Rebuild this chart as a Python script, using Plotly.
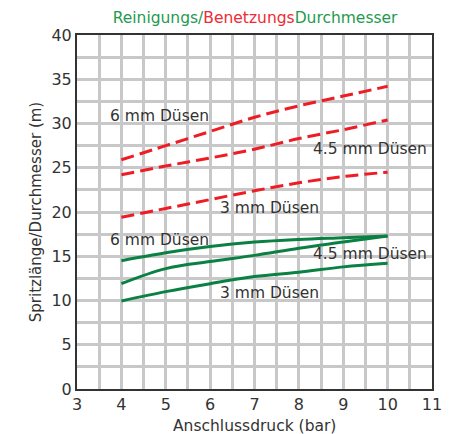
import plotly.graph_objects as go

pressure = [4, 5, 6, 7, 8, 9, 10]

# Benetzungsdurchmesser (red dashed)
wet_6mm = [25.9, 27.5, 29.1, 30.7, 32.0, 33.1, 34.2]
wet_45mm = [24.2, 25.2, 26.1, 27.1, 28.3, 29.3, 30.4]
wet_3mm = [19.4, 20.4, 21.4, 22.4, 23.3, 24.0, 24.5]

# Reinigungsdurchmesser (green solid)
clean_6mm = [14.5, 15.4, 16.1, 16.6, 16.9, 17.1, 17.3]
clean_45mm = [11.9, 13.6, 14.4, 15.1, 15.9, 16.6, 17.3]
clean_3mm = [9.95, 11.0, 11.9, 12.7, 13.2, 13.8, 14.2]

labels = ["6 mm Düsen", "4.5 mm Düsen", "3 mm Düsen"]
wet_label_pos = [(3.74, 30.9), (8.32, 27.1), (6.22, 20.45)]
clean_label_pos = [(3.74, 16.8), (8.32, 15.25), (6.22, 10.8)]

RED = "#ee1c25"
GREEN = "#0b8043"
FONT = "DejaVu Sans"

fig = go.Figure()
for ys in [wet_6mm, wet_45mm, wet_3mm]:
    fig.add_trace(go.Scatter(x=pressure, y=ys, mode="lines",
                             line=dict(color=RED, width=3, dash="13px,6px", shape="spline"),
                             showlegend=False, hoverinfo="skip"))
for ys in [clean_6mm, clean_45mm, clean_3mm]:
    fig.add_trace(go.Scatter(x=pressure, y=ys, mode="lines",
                             line=dict(color=GREEN, width=3, shape="spline"),
                             showlegend=False, hoverinfo="skip"))

for lab, (x, y) in zip(labels + labels, wet_label_pos + clean_label_pos):
    fig.add_annotation(x=x, y=y, text=lab, showarrow=False, xanchor="left", yanchor="middle",
                       xshift=-2, font=dict(family=FONT, size=15.5, color="#333333"))

# x-axis title as paper annotation for exact placement
fig.add_annotation(x=0.501, y=-0.104, xref="paper", yref="paper", text="Anschlussdruck (bar)",
                   showarrow=False, xanchor="center", yanchor="middle",
                   font=dict(family=FONT, size=15.5, color="#333333"))

title_text = ("<span style='color:#1f9a4f'>Reinigungs/</span>"
              "<span style='color:#ee2a35'>Benetzungs</span>"
              "<span style='color:#1f9a4f'>Durchmesser</span>")

fig.update_layout(
    width=455, height=434,
    margin=dict(l=69, r=31, t=27, b=53, autoexpand=False),
    paper_bgcolor="white", plot_bgcolor="white",
    font=dict(family=FONT, size=15, color="#333333"),
    title=dict(text=title_text, x=0.543, xanchor="center", y=0.979, yanchor="middle",
               font=dict(family=FONT, size=15.5), automargin=False),
    xaxis=dict(range=[3, 11], dtick=1, tick0=3, showgrid=True, gridcolor="#c8c8c8", gridwidth=3,
               minor=dict(dtick=0.5, showgrid=True, gridcolor="#c8c8c8", gridwidth=3),
               showline=True, linecolor="#333333", linewidth=2, mirror=True,
               ticks="", automargin=False,
               zeroline=False, tickfont=dict(size=16)),
    yaxis=dict(range=[0, 40], dtick=5, tick0=0, showgrid=True, gridcolor="#c8c8c8", gridwidth=3,
               minor=dict(dtick=2.5, showgrid=True, gridcolor="#c8c8c8", gridwidth=3),
               showline=True, linecolor="#333333", linewidth=2, mirror=True,
               ticks="", automargin=False,
               zeroline=False, tickfont=dict(size=16),
               title=dict(text="Spritzlänge/Durchmesser (m)", font=dict(size=15), standoff=6)),
)

fig.write_html("out.html")
